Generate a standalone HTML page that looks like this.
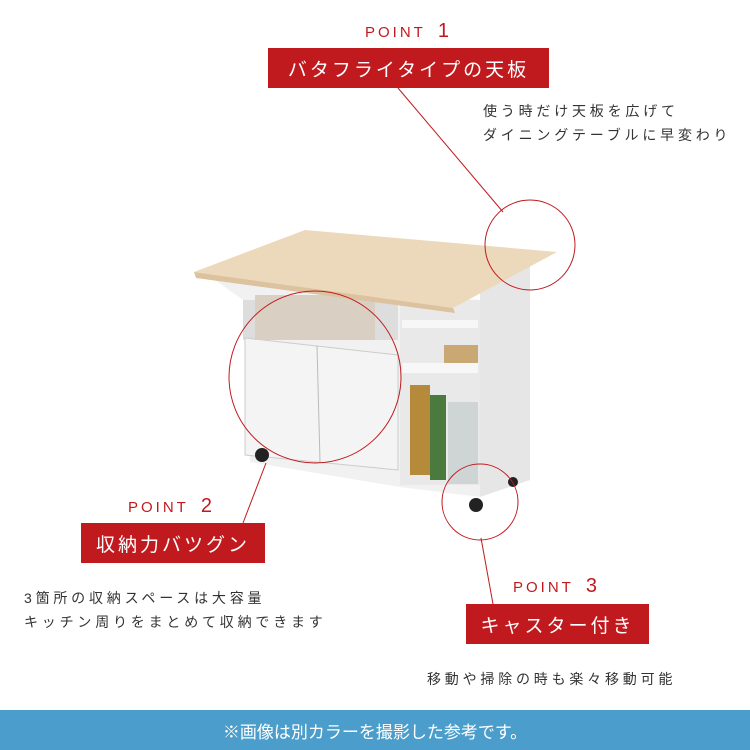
<!DOCTYPE html>
<html><head><meta charset="utf-8"><style>
body{margin:0;width:750px;height:750px;position:relative;background:#fff;overflow:hidden;font-family:"Liberation Sans","Noto Sans CJK JP",sans-serif}
.pt{position:absolute;color:#c11a1e;font-size:15px;letter-spacing:3px}
.pt b{font-weight:normal;font-size:20px;margin-left:12px}
.box{position:absolute;background:#c11a1e;color:#fff;font-size:19px;letter-spacing:3px;display:flex;align-items:center;justify-content:center}
.tx{position:absolute;color:#333;font-size:14px;letter-spacing:3.8px;line-height:24px;white-space:nowrap}
</style></head><body>
<svg width="750" height="750" style="position:absolute;left:0;top:0">
 <polygon points="215,280 480,300 480,497 400,487 250,462 243,300" fill="#f1f1f1"/>
 <polygon points="480,285 530,265 530,480 480,497" fill="#e6e6e6"/>
 <rect x="243" y="300" width="155" height="40" fill="#ddd"/>
 <polygon points="245,338 398,355 398,470 245,455" fill="#f4f4f4" stroke="#ccc"/>
 <line x1="317" y1="346" x2="320" y2="462" stroke="#bbb"/>
 <rect x="400" y="300" width="80" height="185" fill="#e9e9e9"/>
 <rect x="402" y="320" width="76" height="8" fill="#f7f7f7"/>
 <rect x="402" y="363" width="76" height="10" fill="#f7f7f7"/>
 <rect x="410" y="385" width="20" height="90" fill="#b58a3a"/>
 <rect x="430" y="395" width="16" height="85" fill="#4b7a3e"/>
 <rect x="448" y="402" width="30" height="82" fill="#cfd4d4"/>
 <rect x="444" y="345" width="34" height="18" fill="#c9a874"/>
 <rect x="255" y="295" width="120" height="45" fill="#d9cfc2"/>
 <circle cx="262" cy="455" r="7" fill="#222"/>
 <circle cx="476" cy="505" r="7" fill="#222"/>
 <circle cx="513" cy="482" r="5" fill="#222"/>
 <polygon points="194,272 305,230 557,252 453,308" fill="#ecd9bc"/>
 <polygon points="194,272 453,308 455,313 196,278" fill="#dcc29e"/>
 <g fill="none" stroke="#c11a1e" stroke-width="1">
  <circle cx="530" cy="245" r="45"/>
  <circle cx="315" cy="377" r="86"/>
  <circle cx="480" cy="502" r="38"/>
  <line x1="398" y1="88" x2="503" y2="212"/>
  <line x1="266" y1="463" x2="243" y2="523"/>
  <line x1="481" y1="538" x2="493" y2="604"/>
 </g>
</svg>
<div class="pt" style="left:365px;top:20px">POINT<b>1</b></div>
<div class="box" style="left:268px;top:48px;width:281px;height:40px">バタフライタイプの天板</div>
<div class="tx" style="left:483px;top:99px">使う時だけ天板を広げて<br>ダイニングテーブルに早変わり</div>
<div class="pt" style="left:128px;top:495px">POINT<b>2</b></div>
<div class="box" style="left:81px;top:523px;width:184px;height:40px">収納力バツグン</div>
<div class="tx" style="left:24px;top:586px">3箇所の収納スペースは大容量<br>キッチン周りをまとめて収納できます</div>
<div class="pt" style="left:513px;top:575px">POINT<b>3</b></div>
<div class="box" style="left:466px;top:604px;width:183px;height:40px">キャスター付き</div>
<div class="tx" style="left:427px;top:667px">移動や掃除の時も楽々移動可能</div>
<div style="position:absolute;left:0;top:710px;width:750px;height:40px;background:#4b9ecb;color:#fff;font-size:17px;display:flex;align-items:center;justify-content:center">※画像は別カラーを撮影した参考です。</div>
</body></html>
